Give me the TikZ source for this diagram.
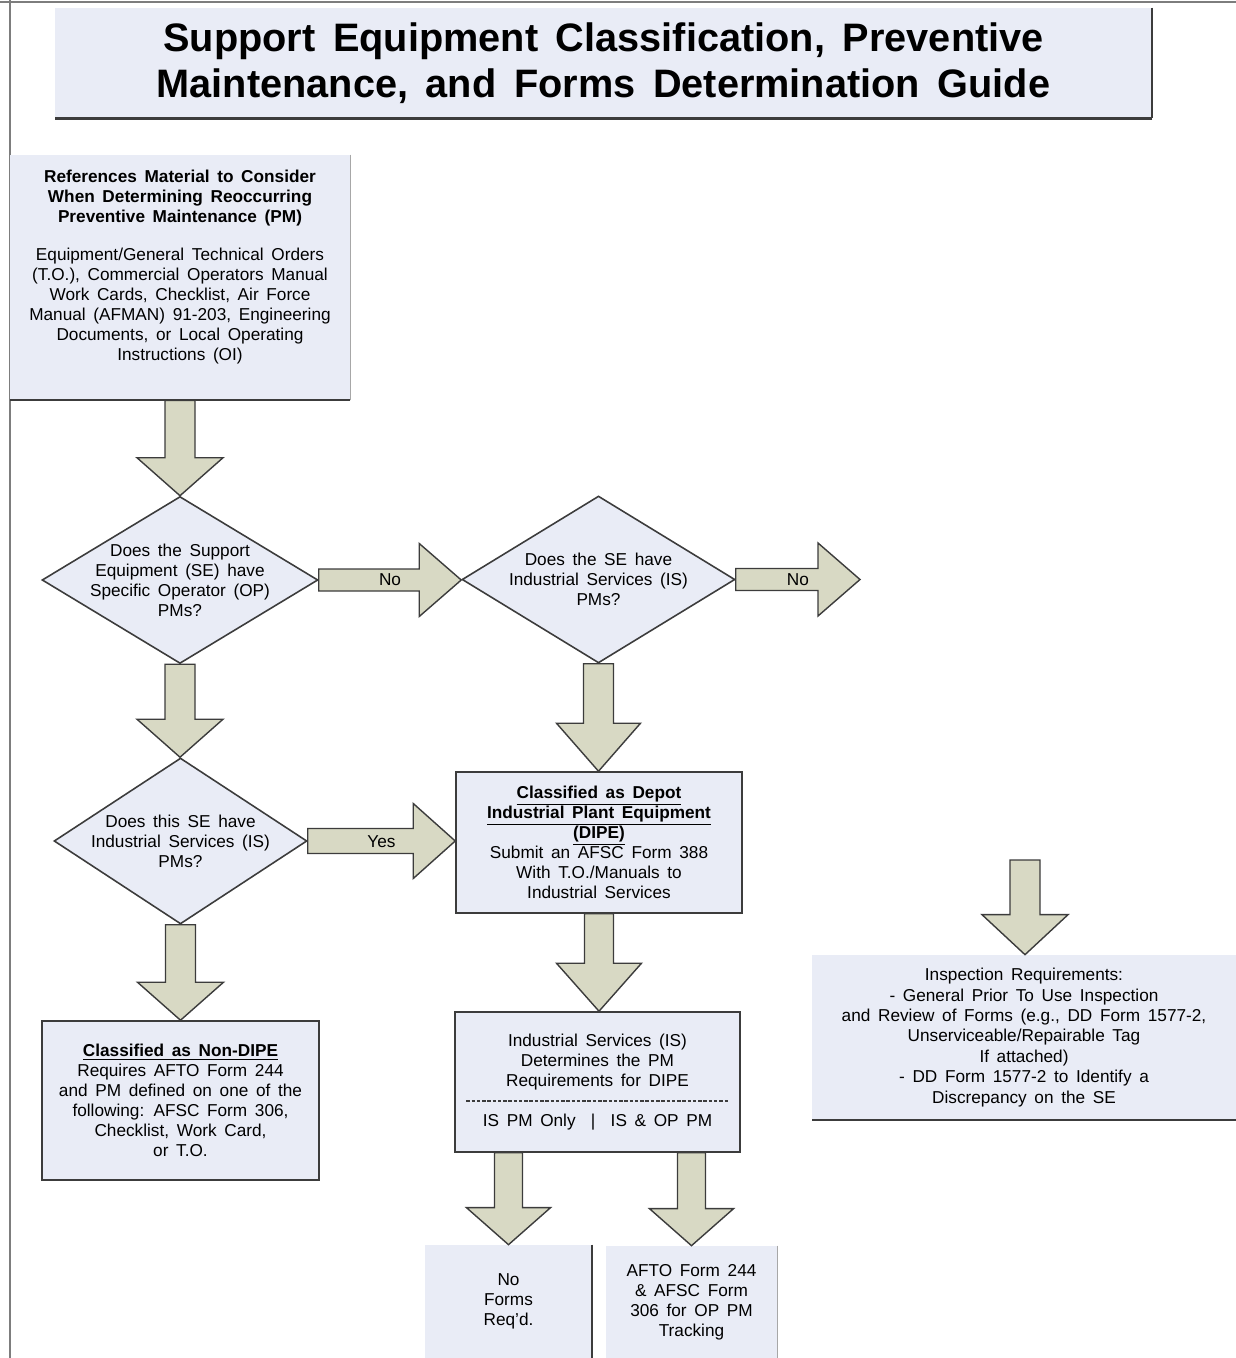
\documentclass[tikz,border=0pt]{standalone}
\usepackage{fontspec}
\setmainfont{Liberation Sans}[WordSpace=1.6]
\usetikzlibrary{shapes.geometric,calc}
\definecolor{boxfill}{RGB}{233,236,246}
\definecolor{arrfill}{RGB}{216,217,196}
\definecolor{edgecol}{RGB}{60,60,60}
\definecolor{framecol}{RGB}{125,125,125}
\newcommand\bodyfont{\fontsize{9.8}{11.4}\selectfont}
\newcommand\inspfont{\fontsize{9.8}{11.6}\selectfont}
\newcommand\titlefont{\bfseries\fontsize{22.6}{26}\selectfont}
% vertical block arrow: from, to, shaft half, head half, head length (px)
\newcommand\varrowblk[5]{%
  \draw[blk] let \p1=(#1), \p2=(#2) in
    (\x1-#3*0.02cm,\y1) -- (\x1-#3*0.02cm,\y2+#5*0.02cm) -- (\x1-#4*0.02cm,\y2+#5*0.02cm)
    -- (\x1,\y2) -- (\x1+#4*0.02cm,\y2+#5*0.02cm) -- (\x1+#3*0.02cm,\y2+#5*0.02cm)
    -- (\x1+#3*0.02cm,\y1) -- cycle;}
% horizontal block arrow: from, to, shaft half, head half, head length, label name, label
\newcommand\harrowblk[7]{%
  \draw[blk] let \p1=(#1), \p2=(#2) in
    (\x1,\y1-#3*0.02cm) -- (\x2-#5*0.02cm,\y1-#3*0.02cm) -- (\x2-#5*0.02cm,\y1-#4*0.02cm)
    -- (\x2,\y1) -- (\x2-#5*0.02cm,\y1+#4*0.02cm) -- (\x2-#5*0.02cm,\y1+#3*0.02cm)
    -- (\x1,\y1+#3*0.02cm) -- cycle;
  \path (#1) -- node (#6) {#7} (#2);}
\begin{document}
\begin{tikzpicture}[x=0.02cm,y=-0.02cm,
  every node/.style={font=\bodyfont, inner sep=0pt},
  fillbox/.style={fill=boxfill, draw=none},
  edgebox/.style={fill=boxfill, draw=edgecol, line width=0.9pt},
  dia/.style={diamond, fill=boxfill, draw=edgecol, line width=0.9pt},
  txt/.style={align=center},
  blk/.style={fill=arrfill, draw=edgecol, line width=0.8pt, line join=miter},
  shadeline/.style={draw=edgecol, line width=1.3pt},
  lightline/.style={draw=edgecol!45, line width=0.9pt},
]
\useasboundingbox (0,0) rectangle (1236,1358);
% frame
\draw[framecol, line width=1.2pt] (0,2) -- (1236,2);
\draw[framecol, line width=1.2pt] (10,0) -- (10,1358);

% title
\node[fillbox, minimum width=21.94cm, minimum height=2.2cm, txt, font=\titlefont] (title) at (603.5,63)
  {Support Equipment Classification, Preventive\\Maintenance, and Forms Determination Guide};
\draw[shadeline] (title.north east) -- (title.south east);
\draw[shadeline, line width=1.7pt] (title.south east) -- (title.south west);

% references box
\node[fillbox, minimum width=6.8cm, minimum height=4.9cm] (refs) at (180,277.5) {};
\draw[lightline] (refs.north east) -- (refs.south east);
\draw[shadeline] (refs.south east) -- (refs.south west);
\node[txt] (refstext) at (180,267)
  {\textbf{References Material to Consider}\\\textbf{When Determining Reoccurring}\\\textbf{Preventive Maintenance (PM)}\\[0.36cm]
   Equipment/General Technical Orders\\(T.O.), Commercial Operators Manual\\Work Cards, Checklist, Air Force\\
   Manual (AFMAN) 91-203, Engineering\\Documents, or Local Operating\\Instructions (OI)};

% diamonds
\node[dia, minimum width=5.52cm, minimum height=3.34cm] (d1) at (180,580) {};
\node[txt] (d1t) at (d1.center) {Does the Support\\Equipment (SE) have\\Specific Operator (OP)\\PMs?};
\node[dia, minimum width=5.46cm, minimum height=3.34cm] (d2) at (598.5,579.5) {};
\node[txt] (d2t) at (d2.center) {Does the SE have\\Industrial Services (IS)\\PMs?};
\node[dia, minimum width=5.06cm, minimum height=3.32cm] (d3) at (180.5,841) {};
\node[txt] (d3t) at (d3.center) {Does this SE have\\Industrial Services (IS)\\PMs?};

% DIPE box
\node[edgebox, minimum width=5.72cm, minimum height=2.82cm, txt] (dipe) at (599,842.5)
  {\underline{\textbf{Classified as Depot}}\\\underline{\textbf{Industrial Plant Equipment}}\\\underline{\textbf{(DIPE)}}\\
   Submit an AFSC Form 388\\With T.O./Manuals to\\Industrial Services};

% IS box
\node[edgebox, minimum width=5.7cm, minimum height=2.8cm, txt] (isbox) at (597.5,1082)
  {Industrial Services (IS)\\Determines the PM\\Requirements for DIPE\\[0.4cm]IS PM Only \ | \ IS \& OP PM};
\draw[edgecol, line width=0.7pt, dash pattern=on 2pt off 1pt]
  ($(isbox.west)+(12,19)$) -- ($(isbox.east)+(-12,19)$);

% Non-DIPE box
\node[edgebox, minimum width=5.54cm, minimum height=3.18cm, txt] (nondipe) at (180.5,1100.5)
  {\underline{\textbf{Classified as Non-DIPE}}\\Requires AFTO Form 244\\and PM defined on one of the\\
   following: AFSC Form 306,\\Checklist, Work Card,\\or T.O.};

% bottom boxes
\node[fillbox, minimum width=3.34cm, minimum height=2.26cm, txt] (nof) at (508.5,1301.5)
  {No\\Forms\\Req'd.};
\draw[shadeline] (nof.north east) -- (nof.south east);
\node[fillbox, minimum width=3.42cm, minimum height=2.24cm, txt] (afto) at (691.5,1302)
  {AFTO Form 244\\\& AFSC Form\\306 for OP PM\\Tracking};
\draw[lightline] (afto.north east) -- (afto.south east);

% inspection box
\node[fillbox, minimum width=8.48cm, minimum height=3.3cm, txt, font=\inspfont] (insp) at (1024,1037.5)
  {Inspection Requirements:\\- General Prior To Use Inspection\\and Review of Forms (e.g., DD Form 1577-2,\\
   Unserviceable/Repairable Tag\\If attached)\\- DD Form 1577-2 to Identify a\\Discrepancy on the SE};
\draw[lightline] (insp.north east) -- (insp.south east);
\draw[shadeline] (insp.south east) -- (insp.south west);

% free coordinates
\coordinate (noend) at (860,580);
\coordinate (inspstart) at (1025,860);

% connectors
\varrowblk{refs.south}{d1.north}{15}{43}{38}
\varrowblk{d1.south}{d3.north}{15}{43}{38}
\varrowblk{d3.south}{nondipe.north}{15}{43}{38}
\varrowblk{d2.south}{dipe.north}{15}{42}{48}
\varrowblk{dipe.south}{isbox.north}{14.5}{42.5}{48}
\varrowblk{nof.north |- isbox.south}{nof.north}{14}{42}{37}
\varrowblk{afto.north |- isbox.south}{afto.north}{14}{42}{37}
\varrowblk{inspstart}{insp.north}{15}{43}{40}
\harrowblk{d1.east}{d2.west}{11}{36.5}{42}{no1}{No}
\harrowblk{d2.east}{noend}{11}{36.5}{42}{no2}{No}
\harrowblk{d3.east}{dipe.west}{12.5}{37.5}{42}{yes1}{Yes}
\end{tikzpicture}
\end{document}
